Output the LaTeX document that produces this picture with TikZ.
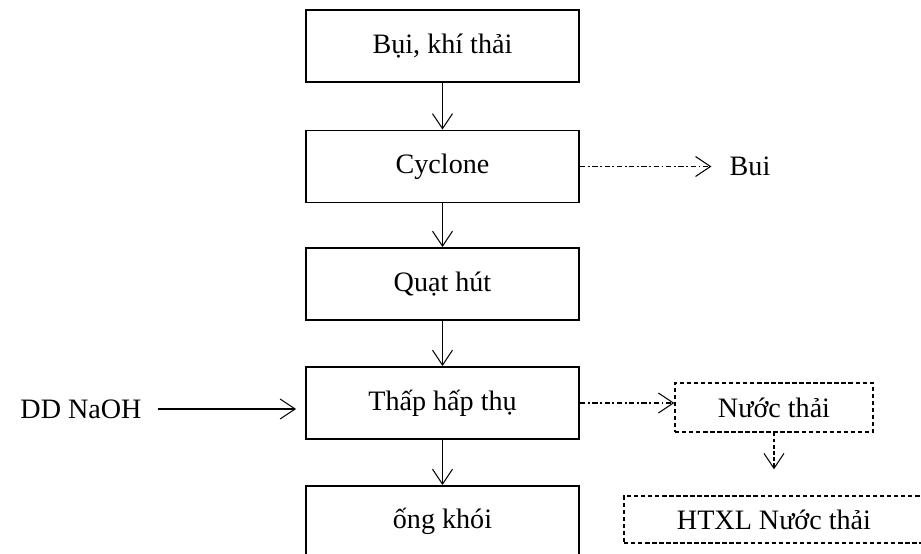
\documentclass[tikz,border=0pt]{standalone}
\usepackage{fontspec}
\setmainfont{Liberation Serif}
\usetikzlibrary{arrows.meta}
\begin{document}
\begin{tikzpicture}[x=0.02cm,y=-0.02cm,>={Straight Barb[length=3mm,width=4mm]},
		font=\fontsize{16}{19}\selectfont,
		khoi/.style={draw,line width=1.1pt,minimum width=5.46cm,minimum height=1.44cm,inner sep=0pt},
		khoinet/.style={draw,line width=0.8pt,dash pattern=on 2.5pt off 1.5pt,inner sep=0pt},
		gach/.style={->,line width=0.6pt,dash pattern=on 3pt off 1.5pt on 1pt off 1.5pt}]
			\useasboundingbox (0,0) rectangle (921,554);
			% day chinh
			\node[khoi] (bui) at (442.5,46) {Bụi, khí thải};
			\node[khoi] (cyc) at (442.5,166.5) {Cyclone};
			\node[khoi] (quat) at (442.5,284) {Quạt hút};
			\node[khoi] (thap) at (442.5,403) {Thấp hấp thụ};
			\node[khoi,minimum height=1.4cm] (ong) at (442.5,521) {ống khói};
			\draw[->,line width=0.6pt] (bui)--(cyc);
			\draw[->,line width=0.6pt] (cyc)--(quat);
			\draw[->,line width=0.6pt] (quat)--(thap);
			\draw[->,line width=0.6pt] (thap)--(ong);
			% nhanh phu
			\node (buira) at (750,166.5) {Bui};
			\draw[gach,shorten >=0.24cm] (cyc)--(buira);
			\node (naoh) at (81,409) {DD NaOH};
			\draw[->,line width=0.6pt,shorten <=0.2cm,shorten >=0.18cm] (naoh.east)--(naoh.east -| thap.west);
			\node[khoinet,minimum width=3.96cm,minimum height=0.98cm] (nuoc) at (774,407.5) {Nước thải};
			\draw[gach] (thap.east)--(thap.east -| nuoc.west);
			\node[khoinet,minimum width=6cm,minimum height=0.94cm] (htxl) at (774,519.5) {HTXL Nước thải};
			\draw[->,line width=0.6pt,dash pattern=on 2pt off 1.5pt,shorten >=0.52cm] (nuoc)--(htxl);
		\end{tikzpicture}
\end{document}
